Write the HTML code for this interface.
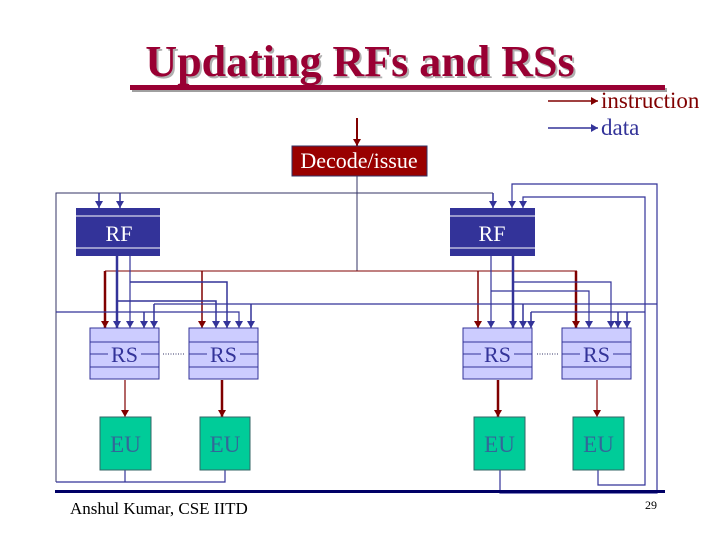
<!DOCTYPE html>
<html><head><meta charset="utf-8"><style>
html,body{margin:0;padding:0;background:#fff;}
svg{display:block;}
text{font-family:"Liberation Serif",serif;}
</style></head><body>
<svg width="720" height="540" viewBox="0 0 720 540" xmlns="http://www.w3.org/2000/svg">
<defs>
<marker id="ab" markerWidth="8" markerHeight="8" refX="7" refY="4" orient="auto" markerUnits="userSpaceOnUse" viewBox="0 0 8 8"><path d="M0,0 L7,4 L0,8 Z" fill="#333399"/></marker>
<marker id="ar" markerWidth="8" markerHeight="8" refX="7" refY="4" orient="auto" markerUnits="userSpaceOnUse" viewBox="0 0 8 8"><path d="M0,0 L7,4 L0,8 Z" fill="#800000"/></marker>
</defs>
<text x="362" y="78" font-size="44" font-weight="bold" fill="#b0b0b0" text-anchor="middle">Updating RFs and RSs</text>
<text x="360" y="76" font-size="44" font-weight="bold" fill="#990033" text-anchor="middle">Updating RFs and RSs</text>
<rect x="132" y="88" width="535" height="4" fill="#a0a0a0"/>
<rect x="130" y="85" width="535" height="5" fill="#990033"/>
<line x1="548" y1="101" x2="598" y2="101" stroke="#800000" stroke-width="1.5" marker-end="url(#ar)"/>
<text x="601" y="108" font-size="23" fill="#800000">instruction</text>
<line x1="548" y1="128" x2="598" y2="128" stroke="#333399" stroke-width="1.5" marker-end="url(#ab)"/>
<text x="601" y="135" font-size="23" fill="#333399">data</text>
<line x1="357" y1="118" x2="357" y2="146" stroke="#800000" stroke-width="2" marker-end="url(#ar)"/>
<rect x="292" y="146" width="135" height="30" fill="#990000" stroke="#333366" stroke-width="1"/>
<text x="359" y="168" font-size="22" fill="#fff" text-anchor="middle">Decode/issue</text>
<g fill="none" stroke="#333366" stroke-width="1">
<line x1="357" y1="176" x2="357" y2="271"/>
<polyline points="56,482 56,193 493,193"/>
</g>
<g fill="none" stroke="#800000">
<line x1="105" y1="271" x2="577" y2="271" stroke-width="1"/>
<line x1="105" y1="271" x2="105" y2="328" stroke-width="2.5" marker-end="url(#ar)"/>
<line x1="202" y1="271" x2="202" y2="328" stroke-width="1.5" marker-end="url(#ar)"/>
<line x1="478" y1="271" x2="478" y2="328" stroke-width="1.5" marker-end="url(#ar)"/>
<line x1="576" y1="271" x2="576" y2="328" stroke-width="2.5" marker-end="url(#ar)"/>
<line x1="125" y1="380" x2="125" y2="417" stroke-width="1.2" marker-end="url(#ar)"/>
<line x1="222" y1="380" x2="222" y2="417" stroke-width="2.5" marker-end="url(#ar)"/>
<line x1="498" y1="380" x2="498" y2="417" stroke-width="2.5" marker-end="url(#ar)"/>
<line x1="597" y1="380" x2="597" y2="417" stroke-width="1.2" marker-end="url(#ar)"/>
</g>
<g fill="none" stroke="#333399" stroke-width="1.5">
<line x1="99" y1="193" x2="99" y2="208" marker-end="url(#ab)"/>
<line x1="120" y1="193" x2="120" y2="208" marker-end="url(#ab)"/>
<line x1="493" y1="193" x2="493" y2="208" marker-end="url(#ab)"/>
<polyline points="500,470 500,493 657,493 657,184 512,184 512,208" stroke-width="1.2" marker-end="url(#ab)"/>
<polyline points="598,470 598,485 645,485 645,197 523,197 523,208" stroke-width="1.2" marker-end="url(#ab)"/>
<polyline points="56,482 225,482 225,470" stroke-width="1.2"/>
<line x1="125" y1="470" x2="125" y2="482" stroke-width="1.2"/>
<line x1="117" y1="256" x2="117" y2="328" stroke-width="2.5" marker-end="url(#ab)"/>
<polyline points="117,301 216,301 216,328" stroke-width="1.5" marker-end="url(#ab)"/>
<line x1="130" y1="256" x2="130" y2="328" stroke-width="1.2" marker-end="url(#ab)"/>
<polyline points="130,282 227,282 227,328" stroke-width="1.5" marker-end="url(#ab)"/>
<polyline points="56,312 239,312 239,328" stroke-width="1.2" marker-end="url(#ab)"/>
<line x1="144" y1="312" x2="144" y2="328" marker-end="url(#ab)"/>
<line x1="154" y1="304" x2="657" y2="304" stroke-width="1.2"/>
<line x1="154" y1="304" x2="154" y2="328" marker-end="url(#ab)"/>
<line x1="251" y1="304" x2="251" y2="328" marker-end="url(#ab)"/>
<line x1="491" y1="256" x2="491" y2="328" stroke-width="1.2" marker-end="url(#ab)"/>
<polyline points="491,291 589,291 589,328" stroke-width="1.2" marker-end="url(#ab)"/>
<line x1="513" y1="256" x2="513" y2="328" stroke-width="2.5" marker-end="url(#ab)"/>
<polyline points="513,282 611,282 611,328" stroke-width="1.2" marker-end="url(#ab)"/>
<line x1="523" y1="304" x2="523" y2="328" marker-end="url(#ab)"/>
<line x1="531" y1="312" x2="645" y2="312" stroke-width="1.2"/>
<line x1="531" y1="312" x2="531" y2="328" marker-end="url(#ab)"/>
<line x1="618" y1="312" x2="618" y2="328" marker-end="url(#ab)"/>
<line x1="627" y1="312" x2="627" y2="328" marker-end="url(#ab)"/>
</g>
<g>
<rect x="76" y="208" width="84" height="48" fill="#333399"/>
<line x1="76" y1="216" x2="160" y2="216" stroke="#fff" stroke-width="1"/>
<line x1="76" y1="248" x2="160" y2="248" stroke="#fff" stroke-width="1"/>
<text x="119" y="241" font-size="22" fill="#fff" text-anchor="middle">RF</text>
<rect x="450" y="208" width="85" height="48" fill="#333399"/>
<line x1="450" y1="216" x2="535" y2="216" stroke="#fff" stroke-width="1"/>
<line x1="450" y1="248" x2="535" y2="248" stroke="#fff" stroke-width="1"/>
<text x="492" y="241" font-size="22" fill="#fff" text-anchor="middle">RF</text>
</g>
<g id="rs">
<rect x="90" y="328" width="69" height="51" fill="#ccccff" stroke="#333399"/>
<line x1="90" y1="342" x2="159" y2="342" stroke="#333399"/>
<line x1="90" y1="367" x2="159" y2="367" stroke="#333399"/>
<line x1="90" y1="354" x2="108" y2="354" stroke="#333399"/>
<line x1="141" y1="354" x2="159" y2="354" stroke="#333399"/>
<text x="124.5" y="362" font-size="22" fill="#333399" text-anchor="middle">RS</text>
</g>
<use href="#rs" x="99"/>
<use href="#rs" x="373"/>
<use href="#rs" x="472"/>
<g stroke="#333366" stroke-dasharray="1,1.5">
<line x1="163" y1="354" x2="185" y2="354"/>
<line x1="537" y1="354" x2="559" y2="354"/>
</g>
<g fill="#00cc99" stroke="#336666">
<rect x="100" y="417" width="51" height="53"/>
<rect x="200" y="417" width="50" height="53"/>
<rect x="474" y="417" width="51" height="53"/>
<rect x="573" y="417" width="51" height="53"/>
</g>
<g font-size="23" fill="#336699" text-anchor="middle">
<text x="125.5" y="452">EU</text>
<text x="225" y="452">EU</text>
<text x="499.5" y="452">EU</text>
<text x="598.5" y="452">EU</text>
</g>
<rect x="55" y="490" width="610" height="3" fill="#000066"/>
<text x="70" y="514" font-size="17" fill="#000">Anshul Kumar, CSE IITD</text>
<text x="645" y="509" font-size="12" fill="#000">29</text>
</svg>
</body></html>
